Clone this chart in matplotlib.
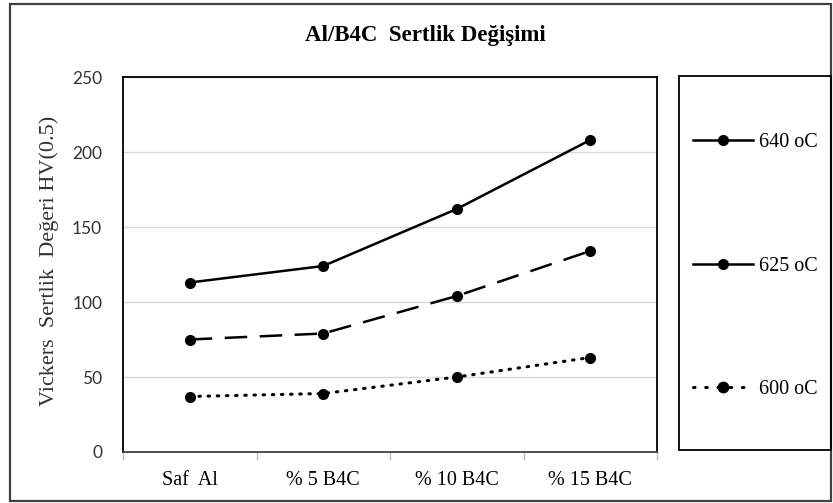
import numpy as np
import matplotlib
matplotlib.use("Agg")
import matplotlib.pyplot as plt
from matplotlib.patches import Rectangle
from matplotlib.lines import Line2D


# Data
categories = ["Saf  Al", "% 5 B4C", "% 10 B4C", "% 15 B4C"]
hard_640 = [113, 124, 162, 208]
hard_625 = [75, 79, 104, 134]
hard_600 = [37, 39, 50, 63]
series_labels = ["640 oC", "625 oC", "600 oC"]
y_ticks = [0, 50, 100, 150, 200, 250]

W, H = 833, 503
SERIF = "Liberation Serif"


def fx(px):
    return px / W


def fy(py):
    return 1 - py / H


fig = plt.figure(figsize=(W / 100, H / 100), dpi=100)

# outer chart border
fig.patches.append(Rectangle((fx(10), fy(501)), fx(831) - fx(10), fy(4) - fy(501),
                             transform=fig.transFigure, fill=False,
                             edgecolor="#404040", linewidth=1.6))

# plot area
ax = fig.add_axes([fx(123), fy(452), fx(657) - fx(123), fy(77) - fy(452)])
x = np.arange(len(categories))

ax.plot(x, hard_640, color="black", lw=1.8, marker="o", ms=7)
ax.plot(x, hard_625, color="black", lw=1.8, marker="o", ms=7, dashes=(9, 5))
ax.plot(x, hard_600, color="black", lw=2.2, marker="o", ms=7,
        linestyle=(0, (0.5, 2.5)), dash_capstyle="round")

ax.set_xlim(-0.5, len(categories) - 0.5)
ax.set_ylim(0, 250)
ax.set_yticks(y_ticks)
ax.set_yticklabels([str(v) for v in y_ticks], fontfamily="Lato", fontsize=12.5,
                   color="#333333")
ax.tick_params(axis="y", length=0, pad=15)

ax.set_xticks(x)
ax.set_xticklabels(categories, fontfamily=SERIF, fontsize=14.5)
ax.tick_params(axis="x", which="major", length=0, pad=14)
ax.set_xticks(np.arange(-0.5, len(categories), 1.0), minor=True)
ax.tick_params(axis="x", which="minor", length=6, color="#bfbfbf", width=1)

ax.grid(axis="y", color="#d9d9d9", lw=1)
ax.set_axisbelow(True)
for s in ax.spines.values():
    s.set_color("black")
    s.set_linewidth(1.3)
ax.spines["bottom"].set_color("#404040")

# title and y label
fig.text(fx(425), fy(36), "Al/B4C  Sertlik Değişimi", fontfamily=SERIF,
         fontweight="bold", fontsize=16.5, ha="center", va="center")
fig.text(fx(49), fy(261), "Vickers  Sertlik  Değeri HV(0.5)", fontfamily=SERIF,
         fontsize=16, rotation=90, ha="center", va="center", color="#333333")

# legend box (Excel draws the short handles of the first two series solid)
fig.patches.append(Rectangle((fx(679), fy(450)), fx(831) - fx(679), fy(76) - fy(450),
                             transform=fig.transFigure, fill=False,
                             edgecolor="black", linewidth=1.3))
handles = [
    Line2D([], [], color="black", lw=1.8, marker="o", ms=7),
    Line2D([], [], color="black", lw=1.8, marker="o", ms=7),
    Line2D([], [], color="black", lw=2.2, marker="o", ms=7.5,
           linestyle=(0, (0.5, 3.5)), dash_capstyle="round"),
]
fig.legend(handles, series_labels, loc="center left",
           bbox_to_anchor=(fx(693), fy(266)), frameon=False,
           prop={"family": SERIF, "size": 14.5}, borderpad=0, borderaxespad=0,
           handlelength=3.0, handletextpad=0.3, labelspacing=5.17)

fig.savefig("out.png", dpi=100)
